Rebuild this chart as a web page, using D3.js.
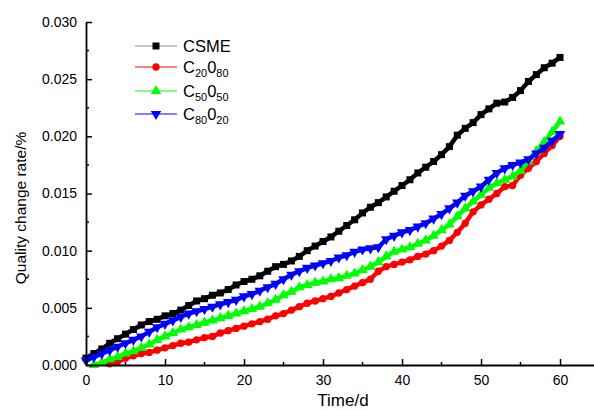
<!DOCTYPE html>
<html><head><meta charset="utf-8">
<script src="https://cdn.jsdelivr.net/npm/d3@7"></script>
<style>html,body{margin:0;padding:0;background:#fff;}svg{display:block;font-family:"Liberation Sans",Arial,sans-serif;}</style>
</head><body>
<script>
const days = d3.range(0, 61);
const csme = [0.0006,0.0010,0.0014,0.0019,0.0023,0.0027,0.0031,0.0035,0.0038,0.0040,0.0043,0.0045,0.0048,0.0052,0.0056,0.0058,0.0061,0.0063,0.0066,0.0070,0.0073,0.0075,0.0078,0.0082,0.0086,0.0088,0.0091,0.0095,0.0100,0.0104,0.0108,0.0112,0.0117,0.0122,0.0127,0.0133,0.0138,0.0142,0.0147,0.0152,0.0157,0.0162,0.0168,0.0173,0.0178,0.0184,0.0191,0.0201,0.0207,0.0212,0.0219,0.0224,0.0229,0.0230,0.0234,0.0240,0.0248,0.0254,0.0260,0.0264,0.0269];
const c20o80 = [null,null,null,0.0001,0.0003,0.0006,0.0008,0.0010,0.0011,0.0013,0.0015,0.0017,0.0019,0.0020,0.0022,0.0024,0.0025,0.0028,0.0030,0.0032,0.0034,0.0036,0.0038,0.0040,0.0043,0.0045,0.0048,0.0051,0.0054,0.0056,0.0058,0.0060,0.0063,0.0066,0.0069,0.0072,0.0075,0.0082,0.0086,0.0088,0.0090,0.0092,0.0095,0.0097,0.0100,0.0104,0.0109,0.0116,0.0124,0.0134,0.0140,0.0145,0.0150,0.0156,0.0157,0.0166,0.0172,0.0178,0.0185,0.0192,0.0200];
const c50o50 = [null,0.0000,0.0002,0.0005,0.0007,0.0010,0.0012,0.0015,0.0018,0.0022,0.0025,0.0028,0.0031,0.0033,0.0035,0.0037,0.0039,0.0041,0.0043,0.0045,0.0047,0.0049,0.0051,0.0054,0.0057,0.0061,0.0064,0.0068,0.0070,0.0072,0.0073,0.0075,0.0076,0.0078,0.0080,0.0083,0.0086,0.0090,0.0095,0.0099,0.0101,0.0103,0.0106,0.0109,0.0113,0.0118,0.0123,0.0130,0.0137,0.0143,0.0149,0.0155,0.0159,0.0162,0.0165,0.0170,0.0178,0.0187,0.0195,0.0204,0.0213];
const c80o20 = [0.0004,0.0007,0.0010,0.0013,0.0016,0.0019,0.0022,0.0025,0.0029,0.0033,0.0036,0.0039,0.0042,0.0045,0.0047,0.0049,0.0051,0.0053,0.0055,0.0057,0.0060,0.0062,0.0065,0.0068,0.0071,0.0075,0.0079,0.0082,0.0085,0.0087,0.0089,0.0091,0.0094,0.0096,0.0099,0.0101,0.0102,0.0103,0.0110,0.0113,0.0116,0.0118,0.0121,0.0124,0.0128,0.0132,0.0137,0.0142,0.0148,0.0152,0.0156,0.0162,0.0168,0.0172,0.0175,0.0177,0.0180,0.0185,0.0190,0.0196,0.0202];
const xTicks = [0,10,20,30,40,50,60];
const yTicks = [0,0.005,0.010,0.015,0.020,0.025,0.030];

const series = [
  {name:"CSME", sub:null, values:csme, color:"#000000", sym:d3.symbolSquare, size:49, rot:0},
  {name:"C", sub:["20","80"], values:c20o80, color:"#ff0000", sym:d3.symbolCircle, size:42, rot:0},
  {name:"C", sub:["50","50"], values:c50o50, color:"#00ff00", sym:d3.symbolTriangle, size:48, rot:0},
  {name:"C", sub:["80","20"], values:c80o20, color:"#0000ff", sym:d3.symbolTriangle, size:48, rot:180}
];

const W=594,H=410;
const svg=d3.select("body").append("svg").attr("width",W).attr("height",H);
const x=d3.scaleLinear().domain([0,64.3]).range([86,594]);
const y=d3.scaleLinear().domain([0,0.030]).range([365,22]);

// data
series.forEach(s=>{
  const pts=days.map((d,i)=>({d,v:s.values[i]})).filter(p=>p.v!==null);
  svg.append("path").datum(pts).attr("fill","none").attr("stroke",s.color).attr("stroke-width",4.5)
    .attr("stroke-linejoin","round")
    .attr("d",d3.line().x(p=>x(p.d)).y(p=>y(p.v)));
  svg.append("g").selectAll("path").data(pts).join("path")
    .attr("d",d3.symbol().type(s.sym).size(s.size))
    .attr("transform",p=>`translate(${x(p.d)},${y(p.v)}) rotate(${s.rot})`)
    .attr("fill",s.color);
});

// axes
const xAxis=d3.axisBottom(x).tickValues(xTicks).tickSizeInner(-6).tickSizeOuter(0).tickPadding(10).tickFormat(d3.format("d"));
const gx=svg.append("g").attr("transform","translate(0,365)").call(xAxis);
gx.selectAll("text").attr("font-size",14).attr("fill","#000").attr("font-family","Liberation Sans, Arial, sans-serif");
gx.select(".domain").attr("stroke-width",1.8);
gx.selectAll(".tick line").attr("stroke-width",1.5);
svg.append("g").selectAll("line").data(xTicks.map(t=>t+5)).join("line")
  .attr("x1",d=>x(d)).attr("x2",d=>x(d)).attr("y1",365).attr("y2",362).attr("stroke","#000").attr("stroke-width",1.5);

const yAxis=d3.axisLeft(y).tickValues(yTicks).tickSizeInner(-6).tickSizeOuter(0).tickPadding(9).tickFormat(d3.format(".3f"));
const gy=svg.append("g").attr("transform","translate(86,0)").call(yAxis);
gy.selectAll("text").attr("font-size",14).attr("fill","#000").attr("font-family","Liberation Sans, Arial, sans-serif");
gy.select(".domain").attr("stroke-width",1.8);
gy.selectAll(".tick line").attr("stroke-width",1.5);
svg.append("g").selectAll("line").data(yTicks.slice(0,-1).map(t=>t+0.0025)).join("line")
  .attr("x1",86).attr("x2",89).attr("y1",d=>y(d)).attr("y2",d=>y(d)).attr("stroke","#000").attr("stroke-width",1.5);

// axis titles
svg.append("text").attr("x",343).attr("y",406).attr("text-anchor","middle").attr("font-size",17).text("Time/d");
svg.append("text").attr("transform","translate(26,208) rotate(-90)").attr("text-anchor","middle").attr("font-size",15.5).text("Quality change rate/%");

// legend
const ly=[46,67,91,114];
const lg=svg.append("g");
series.forEach((s,i)=>{
  const g=lg.append("g").attr("transform",`translate(0,${ly[i]})`);
  g.append("line").attr("x1",135).attr("x2",177).attr("y1",0).attr("y2",0).attr("stroke",s.color).attr("stroke-width",1).attr("opacity",s.color==="#000000"?0.45:1);
  g.append("path").attr("d",d3.symbol().type(s.sym).size(s.size)).attr("transform",`translate(156,0) rotate(${s.rot})`).attr("fill",s.color);
  const t=g.append("text").attr("x",183).attr("y",6).attr("font-size",16.5);
  if(!s.sub){ t.text(s.name); }
  else {
    t.append("tspan").text("C");
    t.append("tspan").attr("font-size",11).attr("dy",4).text(s.sub[0]);
    t.append("tspan").attr("dy",-4).text("0");
    t.append("tspan").attr("font-size",11).attr("dy",4).text(s.sub[1]);
  }
});
</script>
</body></html>
